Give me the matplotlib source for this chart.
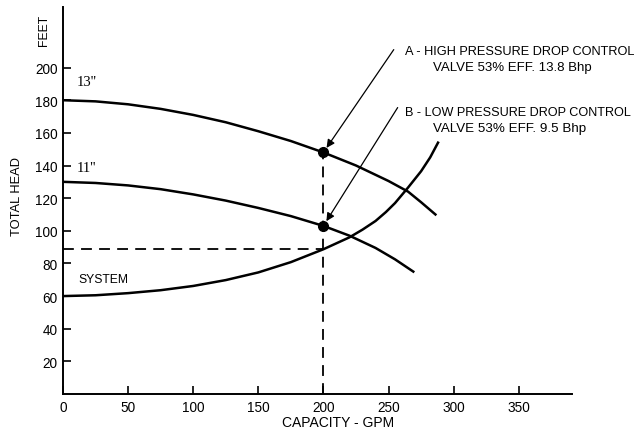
import matplotlib
matplotlib.use("Agg")
import matplotlib.pyplot as plt
from matplotlib import font_manager as fm

# pump head curves (capacity in GPM, head in feet)
gpm_13 = [0, 25, 50, 75, 100, 125, 150, 175, 200, 225, 250, 265, 275, 286]
head_13 = [180, 179.3, 177.5, 174.7, 171, 166.5, 161, 155, 148, 140, 130.5, 124, 117.5, 110]

gpm_11 = [0, 25, 50, 75, 100, 125, 150, 175, 200, 220, 240, 255, 269]
head_11 = [130, 129.3, 127.8, 125.5, 122.3, 118.5, 114, 109, 103, 97, 89.5, 82.5, 75]

# system curve
gpm_sys = [0, 25, 50, 75, 100, 125, 150, 175, 200, 220, 230, 240, 248, 255,
           265, 275, 282, 288]
head_sys = [60, 60.5, 61.8, 63.6, 66.2, 69.8, 74.5, 80.8, 88.7, 96, 100.7, 106,
            111.5, 117, 126.5, 136.5, 145, 154]

# operating points
pt_gpm = [200, 200]
pt_head = [148, 103]
sys_head_200 = 88.7

x_ticks = [0, 50, 100, 150, 200, 250, 300, 350]
y_ticks = [20, 40, 60, 80, 100, 120, 140, 160, 180, 200]

prop = fm.FontProperties(family=["Liberation Sans", "DejaVu Sans"])
serif = fm.FontProperties(family=["Liberation Serif", "DejaVu Serif"])

fig = plt.figure(figsize=(6.4, 4.31), dpi=100)
ax = fig.add_axes([0.0984, 0.0835, 0.7956, 0.8975])

ax.plot(gpm_13, head_13, color="black", lw=1.8)
ax.plot(gpm_11, head_11, color="black", lw=1.8)
ax.plot(gpm_sys, head_sys, color="black", lw=1.8)

ax.plot([200, 200], [0, pt_head[0]], color="black", lw=1.3, ls=(0, (6, 4)))
ax.plot([0, 200], [sys_head_200, sys_head_200], color="black", lw=1.3, ls=(0, (6, 4)))
ax.plot(pt_gpm, pt_head, "o", color="black", ms=7, zorder=5)

ax.set_xlim(0, 391)
ax.set_ylim(0, 237)
ax.set_xticks(x_ticks)
ax.set_yticks(y_ticks)
ax.tick_params(direction="in", length=6, width=1.2, pad=4)
for s in ("top", "right"):
    ax.spines[s].set_visible(False)
for s in ("left", "bottom"):
    ax.spines[s].set_linewidth(1.4)

ax.annotate("", xy=(200, 148), xytext=(254, 211),
            arrowprops=dict(arrowstyle="-|>", color="black", lw=0.9,
                            mutation_scale=12, shrinkA=0, shrinkB=4))
ax.annotate("", xy=(200, 103), xytext=(257, 175.5),
            arrowprops=dict(arrowstyle="-|>", color="black", lw=0.9,
                            mutation_scale=12, shrinkA=0, shrinkB=4))

renderer = fig.canvas.get_renderer()


def fit(t, width_px):
    # scale the font so the label spans width_px pixels
    t.set_fontsize(10)
    w = t.get_window_extent(renderer).width
    t.set_fontsize(10 * width_px / w)
    return t


def px(x, y):
    return x / 640, 1 - y / 431


kw = dict(va="center", fontproperties=prop)
fit(fig.text(*px(405, 52), "A - HIGH PRESSURE DROP CONTROL", **kw), 230)
fit(fig.text(*px(433, 68), "VALVE 53% EFF. 13.8 Bhp", **kw), 158)
fit(fig.text(*px(405, 113), "B - LOW PRESSURE DROP CONTROL", **kw), 226)
fit(fig.text(*px(433, 129), "VALVE 53% EFF. 9.5 Bhp", **kw), 152)
fit(fig.text(*px(78, 280), "SYSTEM", **kw), 50)
fit(fig.text(*px(282, 423), "CAPACITY - GPM", **kw), 112)

fig.text(*px(77, 83), "13''", va="center", fontproperties=serif, fontsize=10.5)
fig.text(*px(77, 169), "11''", va="center", fontproperties=serif, fontsize=10.5)

fig.text(*px(17, 196), "TOTAL HEAD", ha="center", rotation=90,
         fontsize=9.3, **kw)
fig.text(*px(44, 30), "FEET", ha="center", rotation=90, fontsize=8.8, **kw)

for lbl in ax.get_xticklabels() + ax.get_yticklabels():
    lbl.set_fontproperties(prop)
    lbl.set_fontsize(9.8)

fig.savefig("out.png", dpi=100)
